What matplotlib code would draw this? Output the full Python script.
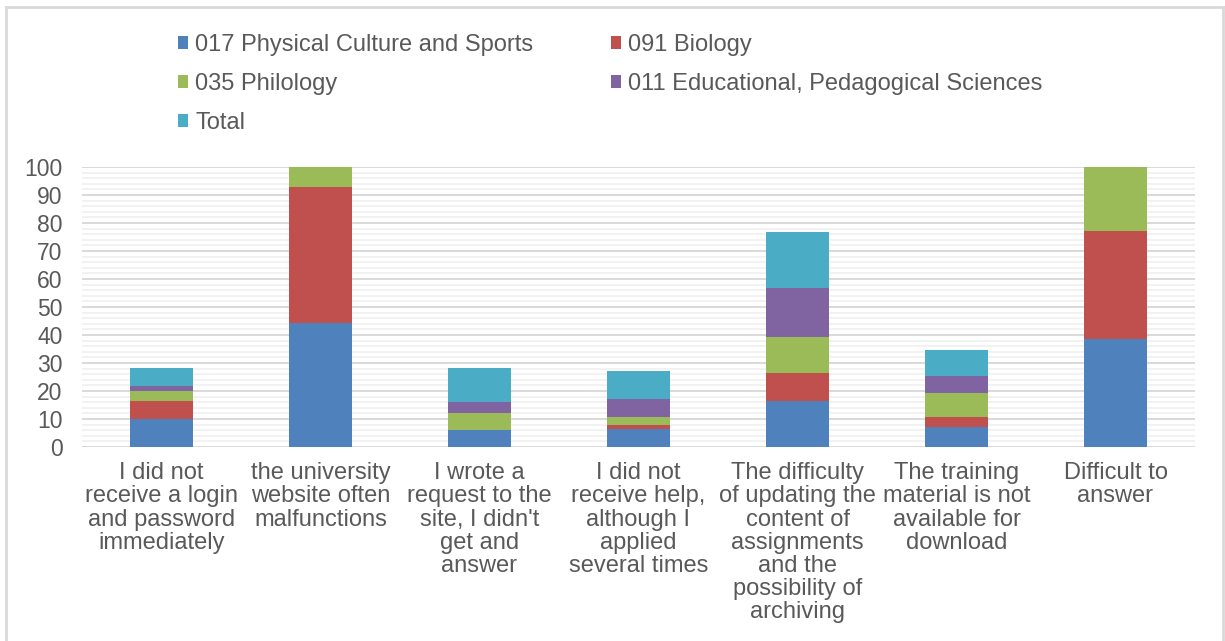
import numpy as np
import matplotlib.pyplot as plt
from matplotlib.lines import Line2D

plt.rcParams['font.family'] = ['Liberation Sans', 'DejaVu Sans']

categories = ["I did not\nreceive a login\nand password\nimmediately",
              "the university\nwebsite often\nmalfunctions",
              "I wrote a\nrequest to the\nsite, I didn't\nget and\nanswer",
              "I did not\nreceive help,\nalthough I\napplied\nseveral times",
              "The difficulty\nof updating the\ncontent of\nassignments\nand the\npossibility of\narchiving",
              "The training\nmaterial is not\navailable for\ndownload",
              "Difficult to\nanswer"]

sports = [10.1, 44.2, 6.2, 6.3, 16.3, 7.0, 38.5]
biology = [6.3, 48.8, 0.0, 1.7, 10.1, 3.8, 38.8]
philology = [3.5, 7.0, 5.9, 2.6, 12.9, 8.4, 22.7]
pedagog = [2.0, 0.0, 4.1, 6.7, 17.6, 6.2, 0.0]
total = [6.4, 0.0, 12.1, 9.8, 19.9, 9.1, 0.0]

names = ["017 Physical Culture and Sports", "091 Biology", "035 Philology",
         "011 Educational, Pedagogical Sciences", "Total"]
colors = ["#4F81BD", "#C0504D", "#9BBB59", "#8064A2", "#4BACC6"]
series = [sports, biology, philology, pedagog, total]

txt = "#595959"

fig = plt.figure(figsize=(12.25, 6.41), dpi=100)
ax = fig.add_axes([82/1225, 1-447/641, 1113/1225, 280/641])

x = np.arange(len(categories))
bottom = np.zeros(len(categories))
bars = []
for vals, c, n in zip(series, colors, names):
    b = ax.bar(x, vals, 0.4, bottom=bottom, color=c, label=n, zorder=3)
    bars.append(b)
    bottom += np.array(vals)

ax.set_xlim(-0.5, len(categories) - 0.5)
ax.set_ylim(0, 100)
ax.set_yticks(np.arange(0, 101, 10))
ax.set_yticks(np.arange(0, 101, 2), minor=True)
ax.grid(True, axis='y', which='major', color='#d9d9d9', lw=1.4, zorder=0)
ax.grid(True, axis='y', which='minor', color='#f0f0f0', lw=1.2, zorder=0)
for s in ax.spines.values():
    s.set_visible(False)
ax.tick_params(axis='both', which='both', length=0)
ax.tick_params(axis='y', labelsize=16.5, labelcolor=txt, pad=14)
ax.set_xticks(x)
ax.set_xticklabels(categories, fontsize=17, color=txt, linespacing=1.07, va='top')
ax.tick_params(axis='x', pad=11)

# legend: row-major order as in the reference
order = [0, 2, 4, 1, 3]
leg = fig.legend([bars[i] for i in order], [names[i] for i in order],
                 loc='upper left', bbox_to_anchor=(178/1225, 1-34/641), ncol=2,
                 frameon=False, fontsize=17, handlelength=0.42, handleheight=0.42,
                 handletextpad=0.3, columnspacing=3.3, labelspacing=0.72,
                 borderaxespad=0, borderpad=0)
for t in leg.get_texts():
    t.set_color(txt)

# chart frame
fc = '#d9d9d9'
fig.add_artist(Line2D([6/1225, 6/1225], [0, 1-7/641], color=fc, lw=2))
fig.add_artist(Line2D([1223/1225, 1223/1225], [0, 1-7/641], color=fc, lw=2))
fig.add_artist(Line2D([6/1225, 1223/1225], [1-7/641, 1-7/641], color=fc, lw=2))

fig.savefig('out.png', dpi=100)
